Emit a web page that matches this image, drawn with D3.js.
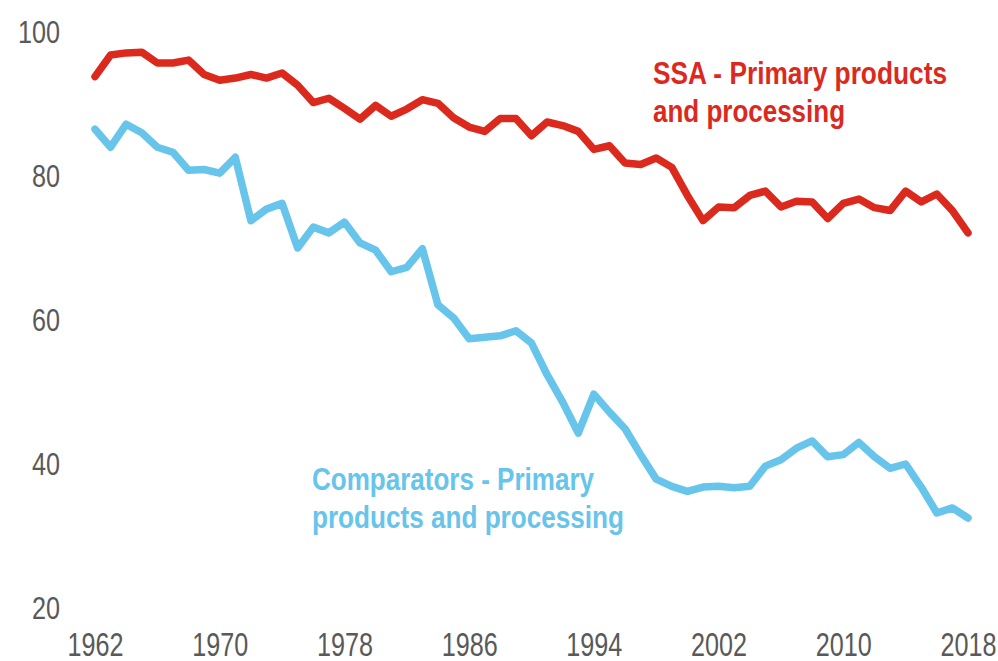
<!DOCTYPE html>
<html>
<head>
<meta charset="utf-8">
<script src="https://cdn.jsdelivr.net/npm/d3@7"></script>
<style>
  body { margin: 0; background: #fff; }
  svg text { font-family: "Liberation Sans", Arial, sans-serif; }
</style>
</head>
<body>
<svg id="plot"></svg>
<script>
const width = 998;
const height = 661;

const years = d3.range(1962, 2019);
const ssa = [
  93.8, 96.8, 97.1, 97.2, 95.7, 95.7, 96.1, 94.1, 93.3, 93.6,
  94.1, 93.6, 94.3, 92.6, 90.2, 90.8, 89.4, 87.9, 89.8, 88.3,
  89.3, 90.6, 90.1, 88.1, 86.8, 86.2, 88.0, 88.0, 85.6, 87.5,
  87.0, 86.2, 83.7, 84.2, 81.8, 81.6, 82.5, 81.2, 77.3, 73.8,
  75.7, 75.6, 77.3, 77.9, 75.7, 76.5, 76.4, 74.1, 76.2, 76.8,
  75.6, 75.2, 77.9, 76.4, 77.5, 75.2, 72.1
];
const comparators = [
  86.5, 84.0, 87.2, 86.0, 84.0, 83.3, 80.8, 80.9, 80.4, 82.6,
  73.8, 75.4, 76.2, 70.0, 72.9, 72.1, 73.6, 70.7, 69.7, 66.7,
  67.3, 69.9, 62.1, 60.3, 57.4, 57.6, 57.8, 58.5, 56.8, 52.4,
  48.6, 44.3, 49.7, 47.2, 44.9, 41.3, 37.9, 36.9, 36.2, 36.8,
  36.9, 36.7, 36.9, 39.7, 40.6, 42.2, 43.2, 41.0, 41.3, 43.0,
  41.0, 39.4, 40.0, 36.8, 33.2, 33.9, 32.5
];
const xTicks = [1962, 1970, 1978, 1986, 1994, 2002, 2010, 2018];
const yTicks = [20, 40, 60, 80, 100];
const ssaLabel = ["SSA - Primary products", "and processing"];
const compLabel = ["Comparators - Primary", "products and processing"];

const red = "#dc291e";
const blue = "#67c4ea";
const grey = "#595959";

const svg = d3.select("#plot")
  .attr("width", width)
  .attr("height", height);

const x = d3.scaleLinear().domain([1962, 2018]).range([95, 968]);
const y = d3.scaleLinear().domain([20, 100]).range([608, 32]);

// the font in the picture is a narrow one; squeeze a regular one to fit
function squeeze(sel, w){
  sel.each(function(){
    let natural = this.getComputedTextLength();
    let target = typeof w === "function" ? w(this) : w;
    if (natural > target){
      d3.select(this)
        .attr("textLength", target)
        .attr("lengthAdjust", "spacingAndGlyphs");
    }
  });
}

// y axis labels, no line
const gy = svg.append("g")
  .attr("transform", "translate(60,0)")
  .call(d3.axisLeft(y).tickValues(yTicks).tickSize(0).tickPadding(0));
gy.select(".domain").remove();
gy.selectAll("text")
  .attr("font-size", 32)
  .attr("dy", "0.34em")
  .attr("fill", grey)
  .call(squeeze, el => el.textContent.length * 14);

// x axis labels
const gx = svg.append("g")
  .attr("transform", "translate(0,656)")
  .call(d3.axisBottom(x).tickValues(xTicks).tickFormat(d3.format("d")).tickSize(0).tickPadding(0));
gx.select(".domain").remove();
gx.selectAll("text")
  .attr("font-size", 33)
  .attr("dy", 0)
  .attr("fill", grey)
  .call(squeeze, 56);

const line = d3.line()
  .x((d, i) => x(years[i]))
  .y(d => y(d));

svg.append("path")
  .datum(comparators)
  .attr("fill", "none")
  .attr("stroke", blue)
  .attr("stroke-width", 7.5)
  .attr("stroke-linejoin", "round")
  .attr("stroke-linecap", "round")
  .attr("d", line);

svg.append("path")
  .datum(ssa)
  .attr("fill", "none")
  .attr("stroke", red)
  .attr("stroke-width", 7.5)
  .attr("stroke-linejoin", "round")
  .attr("stroke-linecap", "round")
  .attr("d", line);

function label(lines, widths, px, py, color){
  svg.selectAll(null)
    .data(lines)
    .enter()
    .append("text")
    .attr("x", px)
    .attr("y", (d, i) => py + i * 38)
    .attr("fill", color)
    .attr("font-size", 31)
    .attr("font-weight", "bold")
    .text(d => d)
    .each(function(d, i){
      d3.select(this).call(squeeze, widths[i]);
    });
}
label(ssaLabel, [294, 192], 653, 84, red);
label(compLabel, [282, 312], 312, 490, blue);
</script>
</body>
</html>
